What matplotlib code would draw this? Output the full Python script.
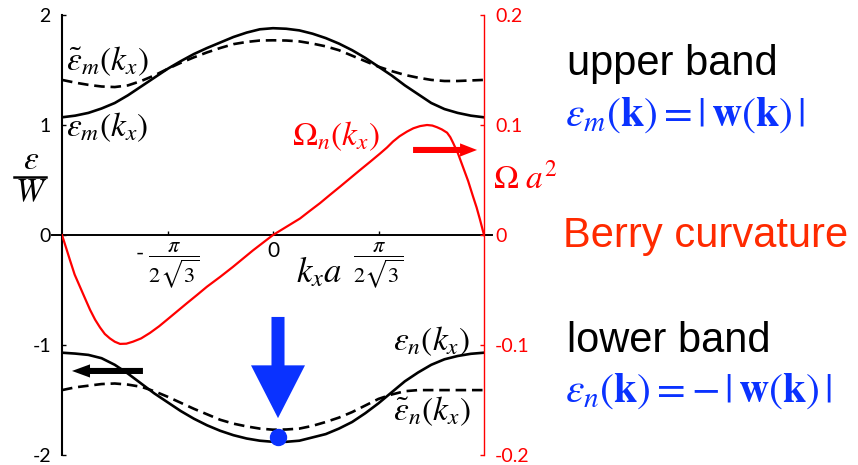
import numpy as np
import matplotlib
matplotlib.use("Agg")
import matplotlib.pyplot as plt
from matplotlib.patches import FancyArrow

plt.rcParams['mathtext.fontset'] = 'stix'
plt.rcParams['font.family'] = ['Lato', 'DejaVu Sans']
plt.rcParams['axes.unicode_minus'] = False

# kx in units of pi/sqrt(3)
kx_band = [-1, -0.9375, -0.875, -0.8125, -0.75, -0.6875, -0.625, -0.5625,
           -0.5, -0.4375, -0.375, -0.3125, -0.25, -0.1875, -0.125, -0.0625, 0,
           0.0625, 0.125, 0.1875, 0.25, 0.3125, 0.375, 0.4375, 0.5,
           0.5625, 0.625, 0.6875, 0.75, 0.8125, 0.875, 0.9375, 1]
# energies in units of W
eps_m = [1.07, 1.085, 1.11, 1.15, 1.20, 1.27, 1.35, 1.43, 1.51, 1.58, 1.645,
         1.70, 1.75, 1.80, 1.84, 1.87, 1.88,
         1.875, 1.86, 1.83, 1.79, 1.74, 1.68, 1.61, 1.53, 1.45, 1.36, 1.28,
         1.20, 1.145, 1.11, 1.085, 1.07]
eps_m_t = [1.41, 1.385, 1.365, 1.35, 1.345, 1.36, 1.40, 1.45, 1.51, 1.565,
           1.615, 1.66, 1.70, 1.735, 1.755, 1.768, 1.77,
           1.768, 1.76, 1.74, 1.715, 1.68, 1.63, 1.58, 1.53, 1.49, 1.455,
           1.43, 1.41, 1.40, 1.40, 1.405, 1.41]
eps_n = [-1.07, -1.078, -1.09, -1.12, -1.18, -1.26, -1.35, -1.44, -1.52,
         -1.60, -1.67, -1.73, -1.78, -1.82, -1.85, -1.87, -1.88,
         -1.88, -1.87, -1.84, -1.81, -1.76, -1.70, -1.62, -1.53, -1.43,
         -1.33, -1.25, -1.18, -1.13, -1.10, -1.08, -1.07]
eps_n_t = [-1.41, -1.385, -1.37, -1.355, -1.35, -1.36, -1.38, -1.42, -1.47,
           -1.525, -1.58, -1.63, -1.68, -1.715, -1.74, -1.76, -1.77,
           -1.768, -1.76, -1.735, -1.70, -1.66, -1.61, -1.55, -1.49, -1.45,
           -1.42, -1.41, -1.41, -1.41, -1.41, -1.41, -1.41]

# Berry curvature Omega*a^2
kx_om = [-1, -0.98, -0.962, -0.94, -0.915, -0.89, -0.867, -0.843, -0.82,
         -0.797, -0.773, -0.75, -0.725, -0.695, -0.664, -0.625, -0.583,
         -0.54, -0.502, -0.455, -0.408, -0.36, -0.313, -0.25, -0.19, -0.095,
         0, 0.064, 0.128, 0.175, 0.223, 0.27, 0.318, 0.365, 0.412, 0.46,
         0.507, 0.54, 0.569, 0.60, 0.635, 0.665, 0.697, 0.73, 0.755, 0.777,
         0.80, 0.825, 0.84, 0.853, 0.877, 0.9, 0.925, 0.948, 0.965, 0.981, 1]
omega = [0, -0.012, -0.023, -0.036, -0.047, -0.058, -0.068, -0.077, -0.084,
         -0.090, -0.094, -0.097, -0.099, -0.0988, -0.097, -0.094, -0.089,
         -0.083, -0.077, -0.0695, -0.062, -0.0545, -0.047, -0.038, -0.029,
         -0.014, 0, 0.0075, 0.015, 0.022, 0.029, 0.0365, 0.044, 0.0515,
         0.059, 0.0665, 0.074, 0.0795, 0.085, 0.0898, 0.094, 0.097, 0.099,
         0.100, 0.0995, 0.098, 0.096, 0.093, 0.089, 0.084, 0.074, 0.062,
         0.049, 0.035, 0.025, 0.014, 0]

e_ticks = [-2, -1, 0, 1, 2]
om_ticks = [-0.2, -0.1, 0, 0.1, 0.2]
om_labels = ['-0.2', '-0.1', '0', '0.1', '0.2']

KMAX = np.pi / np.sqrt(3)
xb = np.array(kx_band) * KMAX
xo = np.array(kx_om) * KMAX

RED = '#ff0000'
BLUE = '#0a32ff'

fig = plt.figure(figsize=(8.58, 4.65), dpi=100)
ax = fig.add_axes([62/858, 10/465, 422/858, 440/465])
ax2 = ax.twinx()

ax.plot(xb, eps_m, color='black', lw=1.9)
ax.plot(xb, eps_m_t, color='black', lw=1.9, ls=(0, (4, 2.2)))
ax.plot(xb, eps_n, color='black', lw=1.9)
ax.plot(xb, eps_n_t, color='black', lw=1.9, ls=(0, (4, 2.2)))
ax2.plot(xo, omega, color=RED, lw=1.6)

ax.set_xlim(-KMAX, KMAX)
ax.set_ylim(-2, 2)
ax2.set_ylim(-0.2, 0.2)

for s in ['top', 'right']:
    ax.spines[s].set_visible(False)
for s in ['top', 'left', 'bottom']:
    ax2.spines[s].set_visible(False)
ax.spines['left'].set_linewidth(1.5)
ax.spines['bottom'].set_position(('data', 0))
ax.spines['bottom'].set_visible(False)
ax.axhline(0, xmin=-0.024, xmax=1.02, color='black', lw=1.4, clip_on=False)
ax2.spines['right'].set_color(RED)
ax2.spines['right'].set_linewidth(1.0)

ax.set_yticks(e_ticks)
ax.tick_params(axis='y', direction='in', length=3, width=1, labelsize=14, pad=8)
ax.set_xticks([-KMAX/2, 0, KMAX/2])
ax.set_xticklabels([r'- $\dfrac{\pi}{2\sqrt{3}}$', '0', r'$\dfrac{\pi}{2\sqrt{3}}$'])
ax.tick_params(axis='x', direction='in', length=3, width=1, labelsize=16, pad=4)
ax.get_xticklabels()[1].set_fontsize(15)

ax2.set_yticks(om_ticks)
ax2.set_yticklabels(om_labels)
ax2.tick_params(axis='y', direction='in', length=3, width=1, colors=RED,
                labelsize=14, pad=8)

# minimum of the lower band
i = int(np.argmin(eps_n))
ax.plot(xb[i] + 0.04, eps_n[i] + 0.04, 'o', color=BLUE, ms=11.5, zorder=5)
ax.add_patch(FancyArrow(xb[i] + 0.043, -0.745, 0, -0.92, width=0.112,
                        head_width=0.464, head_length=0.48,
                        length_includes_head=True, color=BLUE, lw=0, zorder=5))
ax.add_patch(FancyArrow(1.204, 0.773, 0.55, 0, width=0.055, head_width=0.12,
                        head_length=0.146, length_includes_head=True,
                        color=RED, lw=0, zorder=6, clip_on=False))
ax.add_patch(FancyArrow(-1.118, -1.236, -0.61, 0, width=0.055, head_width=0.12,
                        head_length=0.155, length_includes_head=True,
                        color='black', lw=0, zorder=6))


def px(x, y):
    return x / 858, 1 - y / 465


mfs = 24
fig.text(*px(66, 61), r'$\tilde{\varepsilon}_m(k_x)$', fontsize=mfs, va='center')
fig.text(*px(66, 127), r'$\varepsilon_m(k_x)$', fontsize=mfs, va='center')
fig.text(*px(292, 136), r'$\Omega_n(k_x)$', fontsize=mfs, va='center', color=RED)
fig.text(*px(493, 178), r'$\Omega\ a^2$', fontsize=mfs, va='center', color=RED)
fig.text(*px(393, 341), r'$\varepsilon_n(k_x)$', fontsize=mfs, va='center')
fig.text(*px(393, 411), r'$\tilde{\varepsilon}_n(k_x)$', fontsize=mfs, va='center')
fig.text(*px(296, 272), r'$k_x a$', fontsize=25, va='center')
fig.text(*px(31, 160), r'$\varepsilon$', fontsize=24, ha='center', va='center')
fig.text(*px(31, 192), r'$W$', fontsize=24, ha='center', va='center')
fig.add_artist(plt.Line2D([14/858, 46/858], [1 - 177/465, 1 - 177/465],
                          color='black', lw=1.8))

fig.text(*px(567, 75), 'upper band', fontsize=30, family='Liberation Sans',
         va='baseline')
fig.text(*px(565, 115), r'$\varepsilon_m(\mathbf{k}) = |\,\mathbf{w}(\mathbf{k})\,|$',
         fontsize=30, color=BLUE, va='center')
fig.text(*px(563, 247), 'Berry curvature', fontsize=30, family='Liberation Sans',
         va='baseline', color='#ff2a00')
fig.text(*px(567, 352), 'lower band', fontsize=30, family='Liberation Sans',
         va='baseline')
fig.text(*px(565, 391), r'$\varepsilon_n(\mathbf{k}) = -\,|\,\mathbf{w}(\mathbf{k})\,|$',
         fontsize=30, color=BLUE, va='center')

fig.savefig('out.png', dpi=100)
